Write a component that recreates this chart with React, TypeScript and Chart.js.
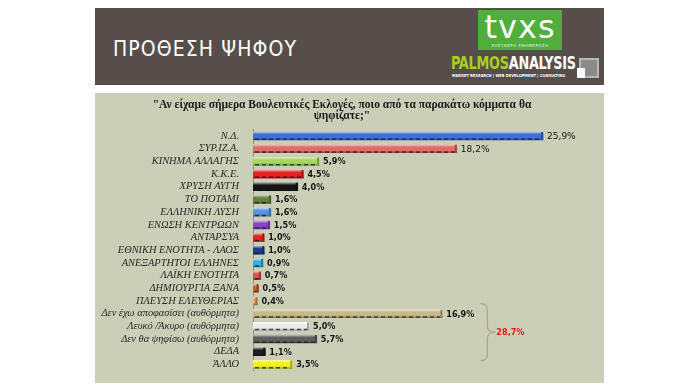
import React, { useEffect, useRef } from 'react';
import { Chart, registerables } from 'chart.js';

Chart.register(...registerables);

const questionLines = ['"Αν είχαμε σήμερα Βουλευτικές Εκλογές, ποιο από τα παρακάτω κόμματα θα', 'ψηφίζατε;"'];

const categories = [
  'Ν.Δ.',
  'ΣΥΡ.ΙΖ.Α.',
  'ΚΙΝΗΜΑ ΑΛΛΑΓΗΣ',
  'Κ.Κ.Ε.',
  'ΧΡΥΣΗ ΑΥΓΗ',
  'ΤΟ ΠΟΤΑΜΙ',
  'ΕΛΛΗΝΙΚΗ ΛΥΣΗ',
  'ΕΝΩΣΗ ΚΕΝΤΡΩΩΝ',
  'ΑΝΤΑΡΣΥΑ',
  'ΕΘΝΙΚΗ ΕΝΟΤΗΤΑ - ΛΑΟΣ',
  'ΑΝΕΞΑΡΤΗΤΟΙ ΕΛΛΗΝΕΣ',
  'ΛΑΪΚΗ ΕΝΟΤΗΤΑ',
  'ΔΗΜΙΟΥΡΓΙΑ ΞΑΝΑ',
  'ΠΛΕΥΣΗ ΕΛΕΥΘΕΡΙΑΣ',
  'Δεν έχω αποφασίσει (αυθόρμητα)',
  'Λευκό /Άκυρο (αυθόρμητα)',
  'Δεν θα ψηφίσω (αυθόρμητα)',
  'ΔΕΔΑ',
  'ΆΛΛΟ',
];

const values = [25.9, 18.2, 5.9, 4.5, 4.0, 1.6, 1.6, 1.5, 1.0, 1.0, 0.9, 0.7, 0.5, 0.4, 16.9, 5.0, 5.7, 1.1, 3.5];

const barColors = [
  '#3d6fd9', '#de6d66', '#a6d85c', '#e62222', '#151515', '#66803c', '#5a94e0', '#8a44c4',
  '#e02424', '#1c3c8c', '#2eb2e6', '#d05454', '#c0622a', '#e6a864', '#c6ba86', '#ececec',
  '#5e5e5e', '#1e1e1e', '#f2f020',
];

const groupFirst = 14;
const groupLast = 17;
const groupLabel = '28,7%';
const braceAtValue = 20.3;

const fmt = (v: number) => v.toFixed(1).replace('.', ',') + '%';

function shade(hex: string, amt: number) {
  const n = parseInt(hex.slice(1), 16);
  let r = (n >> 16) & 255, g = (n >> 8) & 255, b = n & 255;
  if (amt >= 0) {
    r = r + (255 - r) * amt; g = g + (255 - g) * amt; b = b + (255 - b) * amt;
  } else {
    r = r * (1 + amt); g = g * (1 + amt); b = b * (1 + amt);
  }
  return `rgb(${Math.round(r)},${Math.round(g)},${Math.round(b)})`;
}

const BAR_T = 8;

const decorPlugin = {
  id: 'decor',
  afterDatasetsDraw(chart: any) {
    const ctx = chart.ctx;
    const meta = chart.getDatasetMeta(0);
    const xs = chart.scales.x;
    ctx.save();
    meta.data.forEach((el: any, i: number) => {
      const y = el.y;
      const x0 = el.base;
      const x1 = el.x;
      ctx.strokeStyle = 'rgba(25,25,25,0.7)';
      ctx.lineWidth = 1.5;
      ctx.setLineDash([4, 3]);
      ctx.beginPath();
      ctx.moveTo(x0 + 2, y + BAR_T / 2 - 0.75);
      ctx.lineTo(x1 - 2, y + BAR_T / 2 - 0.75);
      ctx.stroke();
      ctx.setLineDash([]);
      ctx.fillStyle = shade(barColors[i], -0.3);
      ctx.fillRect(x1 - 2, y - BAR_T / 2, 2, BAR_T);
      ctx.fillStyle = '#151515';
      ctx.font = i < 2 ? '9px "DejaVu Sans"' : 'bold 9px "DejaVu Sans Condensed"';
      ctx.textAlign = 'left';
      ctx.textBaseline = 'middle';
      ctx.fillText(fmt(values[i]), x1 + 4, y + 0.5);
    });
    const ys = chart.scales.y;
    const top = ys.getPixelForValue(groupFirst) - 10;
    const bot = ys.getPixelForValue(groupLast) + 9;
    const mid = (top + bot) / 2;
    const bx = xs.getPixelForValue(braceAtValue);
    const sx = bx + 7;
    const tx = sx + 8;
    ctx.strokeStyle = '#b4a486';
    ctx.lineWidth = 1.3;
    ctx.beginPath();
    ctx.moveTo(bx, top);
    ctx.quadraticCurveTo(sx, top, sx, top + 7);
    ctx.lineTo(sx, mid - 6);
    ctx.quadraticCurveTo(sx, mid, tx, mid);
    ctx.quadraticCurveTo(sx, mid, sx, mid + 6);
    ctx.lineTo(sx, bot - 7);
    ctx.quadraticCurveTo(sx, bot, bx, bot);
    ctx.stroke();
    ctx.fillStyle = '#e81818';
    ctx.font = 'bold 9px "DejaVu Sans Condensed"';
    ctx.textAlign = 'left';
    ctx.textBaseline = 'middle';
    ctx.fillText(groupLabel, tx + 1, mid);
    ctx.restore();
  },
};

function BarChart() {
  const ref = useRef<HTMLCanvasElement>(null);
  useEffect(() => {
    if (!ref.current) return;
    const chart = new Chart(ref.current, {
      type: 'bar',
      data: {
        labels: categories,
        datasets: [
          {
            data: values,
            barThickness: BAR_T,
            borderWidth: 0,
            backgroundColor: (c: any) => {
              const base = barColors[c.dataIndex];
              const ys = c.chart.scales && c.chart.scales.y;
              if (!ys || c.dataIndex === undefined) return base;
              const y = ys.getPixelForValue(c.dataIndex);
              if (!isFinite(y)) return base;
              const g = c.chart.ctx.createLinearGradient(0, y - BAR_T / 2, 0, y + BAR_T / 2);
              g.addColorStop(0, shade(base, 0.55));
              g.addColorStop(0.3, base);
              g.addColorStop(0.7, base);
              g.addColorStop(1, shade(base, -0.3));
              return g;
            },
          },
        ],
      },
      options: {
        indexAxis: 'y',
        responsive: false,
        animation: false,
        layout: { padding: { left: 0, right: 15, top: 0, bottom: 6 } },
        plugins: {
          legend: { display: false },
          tooltip: { enabled: false },
          title: {
            display: true,
            text: questionLines,
            color: '#1a1a1a',
            font: { family: '"Liberation Serif"', size: 11.5, weight: 'bold', lineHeight: 0.92 },
            padding: { top: 7, bottom: 8.5 },
          },
        },
        scales: {
          x: { display: false, min: 0, max: 30 },
          y: {
            grid: { display: false },
            border: { display: true, color: '#8e9184', width: 1 },
            ticks: {
              autoSkip: false,
              color: '#2a2a2a',
              padding: 6,
              font: { family: '"Liberation Serif"', size: 10.4, style: 'italic' },
            },
            afterFit: (s: any) => { s.width = 158; },
          },
        },
      },
      plugins: [decorPlugin],
    } as any);
    return () => chart.destroy();
  }, []);
  return <canvas ref={ref} width={509} height={290} style={{ display: 'block' }} />;
}

export default function App() {
  return (
    <div style={{ position: 'fixed', left: 0, top: 0, width: 700, height: 391, background: '#ffffff', overflow: 'hidden' }}>
      <div style={{ position: 'absolute', left: 95, top: 8, width: 509, height: 77, background: '#574e4b' }}>
        <div style={{ position: 'absolute', left: 18, top: 29, color: '#ffffff', font: '21px "DejaVu Sans Condensed"', letterSpacing: 1.1, whiteSpace: 'nowrap' }}>ΠΡΟΘΕΣΗ ΨΗΦΟΥ</div>
        <div style={{ position: 'absolute', left: 383, top: 2, width: 84, height: 40, background: '#4fae3c' }}>
          <div style={{ position: 'absolute', left: 0, width: 84, top: 1, textAlign: 'center', color: '#ffffff', font: '32px "DejaVu Sans ExtraLight", "DejaVu Sans"', lineHeight: '32px', letterSpacing: 1 }}>tvxs</div>
          <div style={{ position: 'absolute', left: 0, width: 84, top: 33, textAlign: 'center', color: '#e8f4e4', font: '4px "DejaVu Sans"', letterSpacing: 0.5 }}>ΕΛΕΥΘΕΡΗ ΕΝΗΜΕΡΩΣΗ</div>
        </div>
        <div style={{ position: 'absolute', left: 356, top: 46, font: 'bold 17px "DejaVu Sans Condensed"', letterSpacing: -0.3, whiteSpace: 'nowrap', lineHeight: '18px', transform: 'scaleX(0.84)', transformOrigin: '0 0' }}>
          <span style={{ color: '#a7cf1e' }}>PALMOS</span><span style={{ color: '#ffffff' }}>ANALYSIS</span>
        </div>
        <div style={{ position: 'absolute', left: 357, top: 65, color: '#ffffff', font: 'bold 4px "DejaVu Sans Condensed"', whiteSpace: 'nowrap' }}>MARKET RESEARCH | WEB DEVELOPMENT | CONSULTING</div>
        <div style={{ position: 'absolute', left: 484, top: 50, width: 16, height: 16, border: '2px solid #b8b8b8', background: '#8a8a8a' }}>
          <div style={{ position: 'absolute', left: -4, top: 8, width: 8, height: 10, background: '#ffffff' }} />
        </div>
      </div>
      <div style={{ position: 'absolute', left: 95, top: 93, width: 509, height: 290, background: '#cbcfb7' }}>
        <BarChart />
      </div>
    </div>
  );
}
